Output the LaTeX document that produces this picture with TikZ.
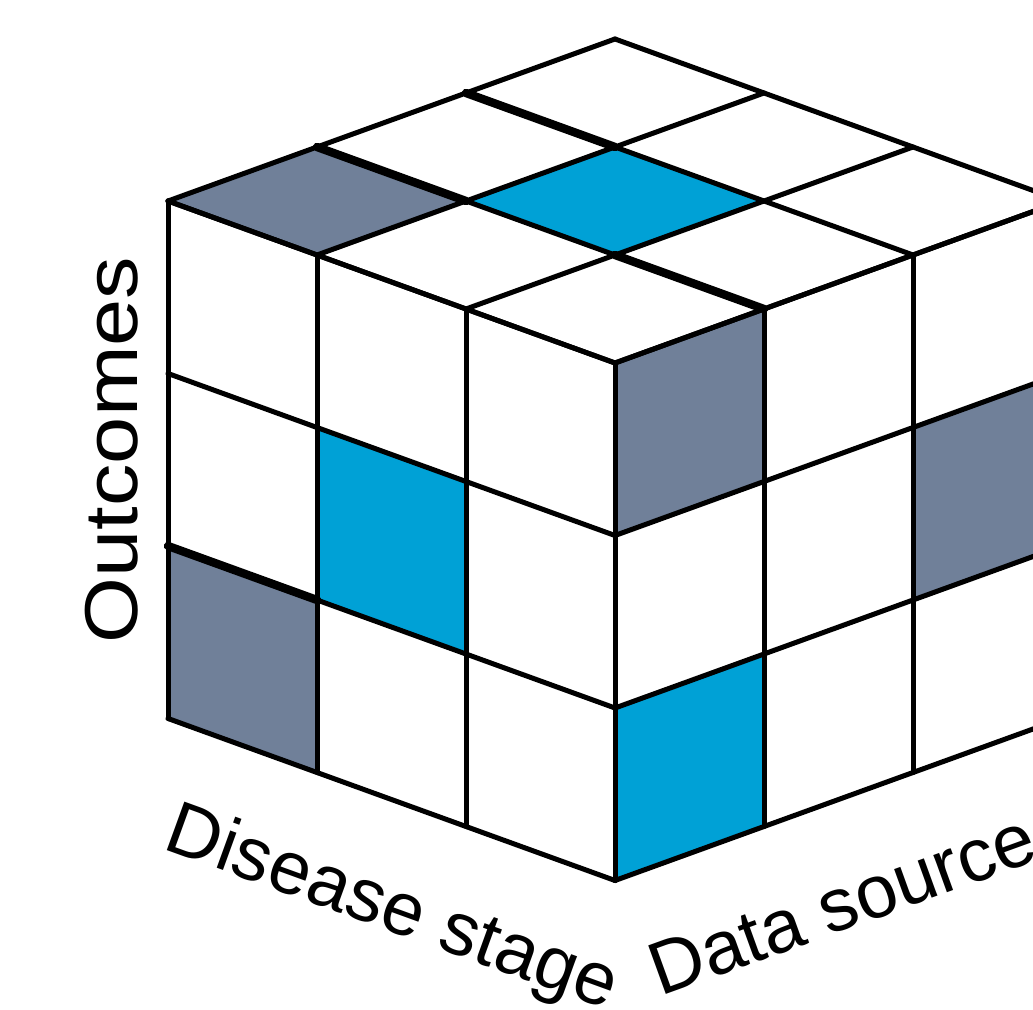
\documentclass[tikz,border=0pt]{standalone}
\usepackage{graphicx}
\usepackage{fontspec}
\setmainfont{Liberation Sans}
\definecolor{slate}{HTML}{708099}
\definecolor{cyanblue}{HTML}{00A1D6}
\begin{document}
\begin{tikzpicture}[x=0.5pt,y=-0.5pt,
  gridline/.style={line width=2.5pt, line cap=round, line join=round},
  heavyline/.style={line width=4.2pt, line cap=round},
  graycell/.style={fill=slate},
  cyancell/.style={fill=cyanblue},
  axislabel/.style={font=\fontsize{37.5}{45}\selectfont, inner sep=0pt}]
\useasboundingbox (0,0) rectangle (1033,1010);
\clip (0,0) rectangle (1033,1010);
\begin{scope}[shift={(307.5pt,-181.5pt)}, x={(-74.5pt,27pt)}, y={(74.5pt,27pt)}, z={(0pt,-86.25pt)}]
  % top face cells
  \fill[graycell] (2,0,0)--(3,0,0)--(3,1,0)--(2,1,0)--cycle;
  \fill[cyancell] (1,1,0)--(2,1,0)--(2,2,0)--(1,2,0)--cycle;
  % left face cells
  \fill[cyancell] (1,0,1)--(2,0,1)--(2,0,2)--(1,0,2)--cycle;
  \fill[graycell] (2,0,2)--(3,0,2)--(3,0,3)--(2,0,3)--cycle;
  % right face cells
  \fill[graycell] (0,0,0)--(0,1,0)--(0,1,1)--(0,0,1)--cycle;
  \fill[cyancell] (0,0,2)--(0,1,2)--(0,1,3)--(0,0,3)--cycle;
  \fill[graycell] (0,2,1)--(0,3,1)--(0,3,2)--(0,2,2)--cycle;
  % grid lines
  \foreach \i in {0,...,3} {
    \draw[gridline] (\i,0,0)--(\i,3,0);
    \draw[gridline] (0,\i,0)--(3,\i,0);
    \draw[gridline] (\i,0,0)--(\i,0,3);
    \draw[gridline] (0,0,\i)--(3,0,\i);
    \draw[gridline] (0,\i,0)--(0,\i,3);
    \draw[gridline] (0,0,\i)--(0,3,\i);
  }
  % heavier segments
  \draw[heavyline] (3,2,0)--(2,2,0);
  \draw[heavyline] (3,1,0)--(2,1,0);
  \draw[heavyline] (1,1,0)--(0,1,0);
  \draw[heavyline] (3,0,2)--(2,0,2);
\end{scope}
\node[axislabel, rotate=90] (outcomes) at (112,450) {\scalebox{1.13}[1]{Outcomes}};
\node[axislabel, rotate=-19.9, anchor=base west] (disease) at (161,848) {Disease stage};
\node[axislabel, rotate=19.9, anchor=base west] (datasource) at (660,997) {Data source};
\end{tikzpicture}
\end{document}
